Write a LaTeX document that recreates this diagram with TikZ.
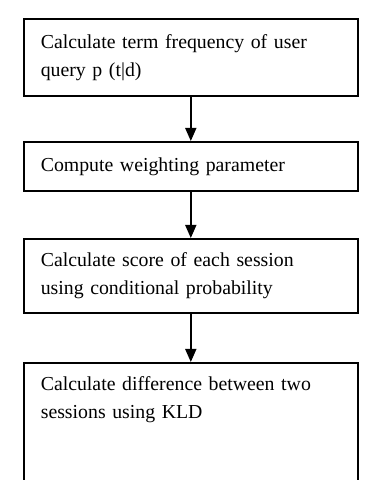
\documentclass[tikz,border=0pt]{standalone}
\usepackage{fontspec}
\setmainfont{Liberation Serif}
\usetikzlibrary{arrows.meta}
\begin{document}
\begin{tikzpicture}[x=1pt,y=1pt,
  stepbox/.style={draw, line width=1.6pt, rectangle, anchor=north west,
    minimum width=334pt, text width=300pt, inner xsep=17pt, inner ysep=0pt,
    align=left, font=\fontsize{19.8}{28}\selectfont},
  steptext/.style={stepbox, draw=none},
  flow/.style={-{Triangle[length=13pt,width=11pt]}, line width=1.6pt}]
\useasboundingbox (0,0) rectangle (380,480);
\clip (0,0) rectangle (380,480);
\fill[white] (0,0) rectangle (380,480);

% process steps
\node[stepbox, minimum height=77pt] (s1) at (23,462)
  {Calculate term frequency of user\\query p (t|d)};
\node[stepbox, minimum height=49pt] (s2) at (23,339)
  {Compute weighting parameter};
\node[stepbox, minimum height=74pt] (s3) at (23,242)
  {Calculate score of each session\\using conditional probability};
% last step runs past the lower edge
\node[stepbox, minimum height=140pt] (s4) at (23,118) {};
\node[steptext, minimum height=74pt] (t4) at (s4.north west)
  {Calculate difference between two\\sessions using KLD};

% connectors
\draw[flow] (s1.south) -- (s2.north);
\draw[flow] (s2.south) -- (s3.north);
\draw[flow] (s3.south) -- (s4.north);
\end{tikzpicture}
\end{document}
